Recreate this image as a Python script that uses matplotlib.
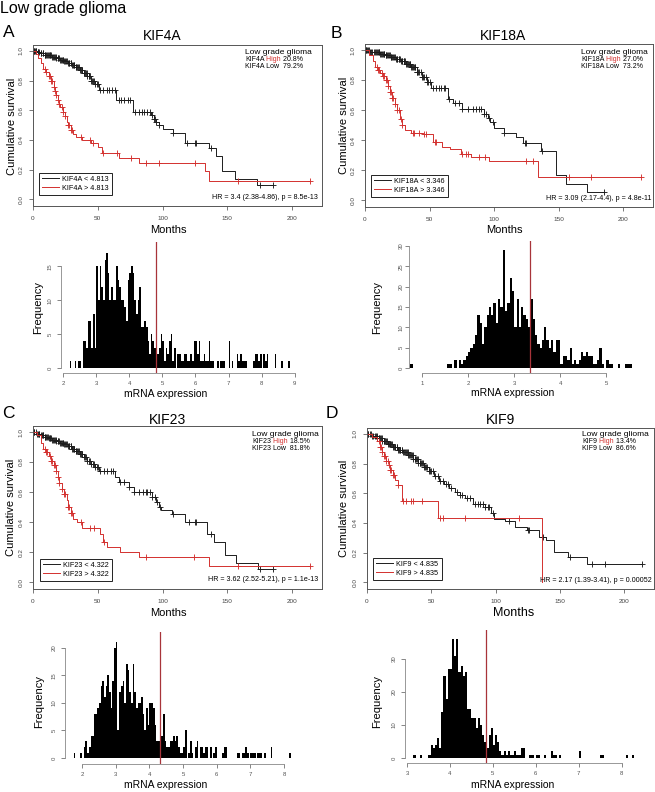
import numpy as np
import matplotlib
matplotlib.use("Agg")
import matplotlib.pyplot as plt

plt.rcParams['font.family'] = ['Liberation Sans', 'DejaVu Sans']

# ---------------- data ----------------
genes = ['KIF4A', 'KIF18A', 'KIF23', 'KIF9']
cutoffs = [4.813, 3.346, 4.322, 4.835]
high_pct = ['20.8%', '27.0%', '18.5%', '13.4%']
low_pct = ['79.2%', '73.2%', '81.8%', '86.6%']
hr_text = ['HR = 3.4 (2.38-4.86), p = 8.5e-13',
           'HR = 3.09 (2.17-4.4), p = 4.8e-11',
           'HR = 3.62 (2.52-5.21), p = 1.1e-13',
           'HR = 2.17 (1.39-3.41), p = 0.00052']

# KIF4A survival (months, survival) steps, end of follow-up, censor times
a_low_t = [0, 3, 6, 9, 12, 15, 18, 21, 24, 27, 30, 33, 36, 39, 42, 45, 48, 51,
           64, 77, 91, 93, 95, 97, 100, 108, 117, 136, 141, 146, 156, 173]
a_low_s = [1.0, 0.99, 0.985, 0.975, 0.97, 0.96, 0.95, 0.94, 0.93, 0.92, 0.905, 0.89,
           0.87, 0.85, 0.83, 0.80, 0.775, 0.735, 0.67, 0.59, 0.565, 0.54, 0.52, 0.50,
           0.475, 0.445, 0.38, 0.345, 0.29, 0.19, 0.14, 0.095]
a_low_end = 185
a_low_cens = [0.5, 1, 1.5, 2, 2.5, 3.5, 4, 5, 6, 6.5, 7.5, 8, 9, 9.5, 10, 11, 11.5,
              12, 13, 13.5, 14, 15, 15.5, 16, 17, 17.5, 18, 19, 19.5, 20, 21, 21.5,
              22, 23, 23.5, 24, 25, 25.5, 26, 27, 27.5, 28, 29, 29.5, 30, 31, 31.5,
              32, 33, 33.5, 34, 35, 35.5, 36, 37, 37.5, 38, 39, 39.5, 40, 41, 41.5,
              42, 43, 43.5, 44, 45, 45.5, 46, 47, 48, 49, 50, 52, 54, 57, 59, 61,
              63, 66, 68, 70, 73, 75, 79, 82, 84, 86, 88, 90, 92, 93, 94, 95, 97,
              108, 119, 125, 126, 137, 175, 185]
a_high_t = [0, 2, 4, 6, 8, 10, 12, 14, 16, 17, 18, 19, 20, 21, 23, 25, 26, 27, 29,
            31, 33, 38, 45, 50, 53, 66, 82, 133, 136]
a_high_s = [1.0, 0.98, 0.95, 0.92, 0.88, 0.86, 0.83, 0.80, 0.76, 0.73, 0.70, 0.67,
            0.64, 0.62, 0.59, 0.56, 0.52, 0.50, 0.47, 0.44, 0.42, 0.40, 0.38, 0.35,
            0.31, 0.28, 0.245, 0.19, 0.125]
a_high_end = 214
a_high_cens = [9, 10, 12, 13, 14, 15, 16, 17, 18, 19, 20, 22, 23, 25, 27, 28, 29, 30,
               37, 44, 46, 54, 65, 76, 87, 97, 125, 158, 214]

# KIF18A
b_low_t = [0, 4, 8, 12, 16, 20, 24, 28, 32, 36, 40, 44, 48, 51, 64, 68, 75, 92, 95,
           97, 100, 108, 117, 122, 136, 148, 156, 172]
b_low_s = [1.0, 0.99, 0.985, 0.975, 0.965, 0.955, 0.94, 0.925, 0.905, 0.885, 0.855,
           0.82, 0.785, 0.745, 0.675, 0.65, 0.605, 0.575, 0.55, 0.52, 0.48, 0.45, 0.42,
           0.38, 0.33, 0.165, 0.11, 0.053]
b_low_end = 185
b_low_cens = [0.5, 1, 1.5, 2.5, 3, 4, 5, 5.5, 7, 8, 8.5, 9, 10, 10.5, 11, 12, 12.5,
              13, 14, 14.5, 15, 16, 16.5, 17, 18, 18.5, 19, 20, 20.5, 21, 22, 22.5,
              23, 24, 24.5, 25, 26, 26.5, 27, 28, 28.5, 29, 30, 30.5, 31, 32, 32.5,
              33, 34, 34.5, 35, 36, 36.5, 37, 38, 38.5, 39, 40, 40.5, 41, 42, 43,
              44, 45, 46, 47, 48, 49, 50, 53, 55, 57, 59, 61, 62, 65, 70, 73, 75,
              80, 84, 86, 88, 90, 92, 94, 96, 99, 108, 124, 125, 137, 185]
b_high_t = [0, 3, 6, 8, 10, 12, 14, 16, 18, 19, 21, 23, 25, 27, 29, 31, 36, 45, 53,
            60, 66, 74, 82, 96, 134]
b_high_s = [1.0, 0.97, 0.93, 0.89, 0.87, 0.85, 0.83, 0.80, 0.76, 0.72, 0.68, 0.64,
            0.60, 0.54, 0.50, 0.47, 0.45, 0.44, 0.385, 0.355, 0.34, 0.31, 0.29, 0.26,
            0.155]
b_high_end = 214
b_high_cens = [9, 10, 11, 13, 14, 15, 16, 17, 18, 19, 20, 21, 22, 23, 25, 26, 28, 29,
               37, 38, 42, 46, 47, 54, 55, 75, 78, 80, 88, 93, 125, 130, 158, 175, 214]

# KIF23
c_low_t = [0, 3, 6, 9, 12, 15, 18, 21, 24, 27, 30, 33, 36, 39, 42, 45, 48, 51, 63,
           66, 74, 78, 92, 95, 97, 99, 107, 117, 134, 140, 148, 157, 174]
c_low_s = [1.0, 0.99, 0.98, 0.97, 0.96, 0.95, 0.94, 0.93, 0.92, 0.905, 0.89, 0.875,
           0.855, 0.835, 0.81, 0.79, 0.765, 0.74, 0.70, 0.665, 0.635, 0.60, 0.57,
           0.535, 0.50, 0.48, 0.455, 0.40, 0.32, 0.27, 0.18, 0.13, 0.09]
c_low_end = 185
c_low_cens = [0.5, 1, 2, 3, 3.5, 4.5, 5, 6, 7, 7.5, 8, 9, 9.5, 10, 11, 11.5, 12,
              13, 13.5, 14, 15, 15.5, 16, 17, 17.5, 18, 19, 19.5, 20, 21, 21.5, 22,
              23, 23.5, 24, 25, 25.5, 26, 27, 27.5, 28, 29, 29.5, 30, 31, 31.5, 32,
              33, 33.5, 34, 35, 35.5, 36, 37, 37.5, 38, 39, 40, 41, 42, 43, 44, 45,
              46, 47, 48, 49, 50, 52, 55, 57, 60, 62, 67, 70, 74, 78, 82, 85, 87, 88,
              90, 92, 94, 96, 98, 108, 120, 125, 126, 137, 175, 185]
c_high_t = [0, 3, 6, 8, 10, 12, 14, 16, 18, 19, 20, 22, 24, 26, 27, 29, 31, 34, 38,
            52, 54, 57, 67, 82, 136]
c_high_s = [1.0, 0.98, 0.93, 0.89, 0.87, 0.84, 0.81, 0.78, 0.74, 0.70, 0.66, 0.62,
            0.59, 0.55, 0.50, 0.46, 0.42, 0.40, 0.36, 0.32, 0.265, 0.235, 0.20, 0.17,
            0.11]
c_high_end = 214
c_high_cens = [9, 10, 11, 13, 14, 15, 16, 17, 18, 19, 20, 22, 24, 25, 27, 28, 29, 30,
               37, 44, 47, 55, 87, 124, 158, 214]

# KIF9
d_low_t = [0, 4, 8, 12, 16, 20, 24, 28, 32, 36, 40, 44, 48, 52, 56, 60, 64, 68, 72,
           76, 82, 92, 96, 99, 107, 115, 124, 134, 139, 145, 156, 171]
d_low_s = [1.0, 0.985, 0.97, 0.955, 0.935, 0.915, 0.895, 0.875, 0.855, 0.83, 0.805,
           0.78, 0.75, 0.715, 0.68, 0.66, 0.635, 0.61, 0.59, 0.57, 0.53, 0.51, 0.465,
           0.43, 0.41, 0.375, 0.355, 0.305, 0.285, 0.205, 0.17, 0.126]
d_low_end = 214
d_low_cens = [0.5, 1, 2, 3, 4, 5, 6, 7, 7.5, 8, 9, 9.5, 10, 11, 11.5, 12, 13, 13.5,
              14, 15, 15.5, 16, 17, 17.5, 18, 19, 19.5, 20, 21, 21.5, 22, 23, 23.5,
              24, 25, 25.5, 26, 27, 27.5, 28, 29, 29.5, 30, 31, 31.5, 32, 33, 33.5,
              34, 35, 35.5, 36, 37, 37.5, 38, 39, 39.5, 40, 41, 41.5, 42, 43, 43.5,
              44, 45, 46, 47, 48, 49, 50, 51, 53, 55, 57, 59, 61, 63, 65, 70, 72,
              74, 78, 80, 84, 86, 88, 90, 92, 94, 95, 98, 110, 125, 126, 137, 158,
              175, 185, 214]
d_high_t = [0, 4, 8, 10, 12, 13, 15, 17, 18, 20, 22, 24, 27, 55, 136]
d_high_s = [1.0, 0.98, 0.95, 0.91, 0.88, 0.85, 0.82, 0.79, 0.76, 0.72, 0.69, 0.655,
            0.545, 0.435, 0.0]
d_high_end = 136
d_high_cens = [9, 10, 11, 12, 13, 14, 15, 16, 17, 18, 19, 20, 21, 24, 28, 30, 34, 36,
               43, 57, 59, 76, 118]

# histograms of mRNA expression: first bin left edge, counts per 0.05 bin
bin_width = 0.05
hist_a_start = 2.2
hist_a_counts = [1, 0, 0, 1, 0, 1, 1, 0, 4, 4, 3, 7, 7, 3, 8, 3, 15, 10, 15, 12,
                 10, 16, 17, 14, 10, 12, 10, 10, 15, 13, 12, 10, 10, 9, 7, 13, 14, 15,
                 14, 10, 8, 10, 12, 6, 6, 7, 6, 4, 2, 5, 4, 3, 1, 2, 3, 5, 4, 1, 3, 2,
                 4, 5, 1, 3, 0, 2, 2, 1, 1, 2, 2, 1, 1, 2, 1, 4, 4, 2, 4, 1, 1, 2, 1,
                 1, 4, 1, 1, 0, 0, 1, 0, 1, 1, 1, 0, 0, 4, 0, 1, 0, 0, 2, 1, 2, 1, 1,
                 1, 0, 0, 0, 0, 1, 2, 2, 1, 2, 0, 2, 1, 2, 0, 0, 0, 0, 2, 0, 0, 0, 1,
                 0, 0, 0, 1]
hist_b_start = 0.75
hist_b_counts = [1, 0, 0, 0, 0, 0, 0, 0, 0, 0, 0, 0, 0, 0, 0, 0, 1, 1, 0, 2, 0, 2,
                 1, 2, 3, 4, 5, 6, 8, 13, 11, 6, 10, 13, 15, 13, 16, 11, 17, 15, 29,
                 14, 16, 22, 19, 10, 17, 10, 15, 13, 12, 10, 17, 12, 8, 6, 5, 7, 10,
                 7, 5, 7, 4, 7, 7, 1, 3, 3, 2, 5, 1, 2, 1, 2, 4, 3, 4, 3, 3, 1, 1, 2,
                 5, 1, 0, 2, 1, 1, 0, 0, 1, 0, 0, 1, 1, 1]
hist_c_start = 1.75
hist_c_counts = [1, 0, 0, 0, 1, 0, 2, 3, 1, 2, 4, 4, 8, 8, 9, 10, 13, 14, 11, 13,
                 15, 12, 9, 14, 20, 21, 5, 12, 13, 14, 10, 17, 16, 12, 10, 17, 12, 9,
                 10, 10, 11, 8, 5, 9, 6, 10, 10, 9, 6, 3, 3, 3, 4, 8, 3, 2, 2, 3, 3,
                 4, 3, 4, 2, 1, 1, 2, 5, 0, 1, 3, 1, 0, 2, 3, 0, 2, 2, 1, 2, 2, 0, 2,
                 0, 1, 2, 0, 0, 0, 1, 2, 2, 0, 0, 0, 0, 0, 0, 1, 1, 0, 1, 1, 2, 1, 0,
                 1, 1, 1, 0, 1, 1, 1, 0, 1, 0, 0, 0, 2, 0, 0, 0, 0, 0, 0, 0, 0, 0, 0,
                 1]
hist_d_start = 3.15
hist_d_counts = [1, 0, 0, 1, 0, 0, 0, 1, 4, 3, 4, 6, 3, 14, 25, 18, 27, 27, 36, 31,
                 36, 26, 28, 25, 26, 15, 15, 12, 12, 9, 12, 10, 7, 5, 3, 7, 9, 4, 7,
                 5, 2, 1, 2, 1, 2, 1, 1, 2, 1, 1, 3, 3, 0, 0, 1, 1, 0, 1, 1, 0, 0, 1,
                 0, 0, 2, 1, 1, 0, 1, 0, 0, 0, 0, 0, 0, 0, 0, 2, 0, 0, 0, 0, 0, 0, 0,
                 0, 0, 1, 1, 0, 0, 0, 0, 0, 0, 0, 0, 0, 0, 1, 0, 0, 1]

# ---------------- layout (pixels of a 655 x 792 canvas) ----------------
W, H = 655, 792
RED = '#d3302e'
LINE_RED = '#a8343a'
DARK = '#1c1c1c'

fig = plt.figure(figsize=(W / 100, H / 100), dpi=100)


def add_box(l, t, r, b):
    return fig.add_axes([l / W, 1 - b / H, (r - l) / W, (b - t) / H])


def ftext(x, y, s, **kw):
    return fig.text(x / W, 1 - y / H, s, **kw)


def surv_at(t, s, c):
    idx = np.searchsorted(t, c, side='right') - 1
    return np.asarray(s)[idx]


panels = [
    dict(low=(a_low_t, a_low_s, a_low_end, a_low_cens),
         high=(a_high_t, a_high_s, a_high_end, a_high_cens),
         hist=(hist_a_start, hist_a_counts)),
    dict(low=(b_low_t, b_low_s, b_low_end, b_low_cens),
         high=(b_high_t, b_high_s, b_high_end, b_high_cens),
         hist=(hist_b_start, hist_b_counts)),
    dict(low=(c_low_t, c_low_s, c_low_end, c_low_cens),
         high=(c_high_t, c_high_s, c_high_end, c_high_cens),
         hist=(hist_c_start, hist_c_counts)),
    dict(low=(d_low_t, d_low_s, d_low_end, d_low_cens),
         high=(d_high_t, d_high_s, d_high_end, d_high_cens),
         hist=(hist_d_start, hist_d_counts)),
]

letters = ['A', 'B', 'C', 'D']
letter_xy = [(3, 37), (331, 38), (2, 418), (326, 418)]
title_xy = [(162, 40), (503, 40), (167, 424), (500, 424)]
km_box = [(33, 45, 322, 206), (365, 44, 653, 207), (33, 426, 322, 589), (367, 428, 654, 589)]
ylab_xy = [(12, 126), (344, 125), (11, 507), (344, 508)]
months_xy = [(168, 230), (504, 230), (168, 613), (514, 613)]
months_fs = [8, 8, 8, 9]
info_x = [245, 581, 252, 582]
info_y = [(53.5, 61, 67.5), (54, 61, 67.5), (436, 443, 449.5), (436, 443, 449.5)]
hr_xy = [(318, 199), (651, 200), (318, 581), (652, 582)]
leg_box = [(39, 195), (371, 197), (40, 581), (373, 580)]

hist_box = [(61, 242, 298.5, 373), (409, 241, 640.6, 373), (65, 632, 299.6, 764),
            (404.7, 630, 641, 763)]
hist_xlim = [(1.934, 9.116), (0.718, 5.742), (1.492, 8.458), (2.946, 8.454)]
hist_ylim = [(-0.74, 18.6), (-1.23, 31.2), (-1.09, 22.9), (-1.5, 38.8)]
hist_xticks = [[2, 3, 4, 5, 6, 7, 8, 9], [1, 2, 3, 4, 5], [2, 3, 4, 5, 6, 7, 8],
               [3, 4, 5, 6, 7, 8]]
hist_yticks = [[0, 5, 10, 15], [0, 5, 10, 15, 20, 25, 30], [0, 5, 10, 15, 20],
               [0, 10, 20, 30]]
hist_ypad = [3, 1, 3, 3]
freq_xy = [(38, 308), (377, 308), (39, 702), (377, 702)]
mrna_xy = [(166, 394), (513, 393), (166, 785), (513, 785)]

ftext(0, 13, 'Low grade glioma', fontsize=11.5, va='baseline', ha='left')

for i, p in enumerate(panels):
    gene = genes[i]
    ftext(letter_xy[i][0], letter_xy[i][1], letters[i], fontsize=12.5, va='baseline')
    ftext(title_xy[i][0], title_xy[i][1], gene, fontsize=10, ha='center', va='baseline')

    # ---------- Kaplan-Meier ----------
    l, t, r, b = km_box[i]
    ax = add_box(l, t, r, b)
    ax.set_xlim(0, 223)
    ax.set_ylim(-0.045, 1.04)
    handles = []
    for key, col in (('low', DARK), ('high', RED)):
        st, ss, end, cens = p[key]
        xs = list(st) + [end]
        ys = list(ss) + [ss[-1]]
        h, = ax.step(xs, ys, where='post', color=col, lw=0.7)
        ax.plot(cens, surv_at(st, ss, cens), ls='none', marker='+', ms=4.3,
                mew=0.65, color=col)
        handles.append(h)
    ax.set_xticks([0, 50, 100, 150, 200])
    ax.set_yticks([0, 0.2, 0.4, 0.6, 0.8, 1.0])
    ax.set_yticklabels(['0.0', '0.2', '0.4', '0.6', '0.8', '1.0'], rotation=90, va='center')
    ax.tick_params(direction='out', length=3, width=0.5, labelsize=4.6, pad=4,
                   colors='#444444')
    for sp in ax.spines.values():
        sp.set_color('#555555')
        sp.set_linewidth(0.7)

    kl, kt, kr, kb = l, t, r, b
    fx = lambda px: (px - kl) / (kr - kl)
    fy = lambda py: (kb - py) / (kb - kt)

    lx, ly = leg_box[i]
    leg = ax.legend(handles, ['%s < %.3f' % (gene, cutoffs[i]), '%s > %.3f' % (gene, cutoffs[i])],
                    loc='lower left', bbox_to_anchor=(fx(lx), fy(ly)), borderaxespad=0,
                    fontsize=5.2, fancybox=False, edgecolor='#222222', framealpha=1,
                    handlelength=2.3, handletextpad=0.5, borderpad=0.45,
                    labelspacing=0.25)
    leg.get_frame().set_linewidth(0.7)

    y1, y2, y3 = info_y[i]
    ax.text(fx(info_x[i]), fy(y1), 'Low grade glioma', transform=ax.transAxes,
            fontsize=6, va='baseline', ha='left')
    t1 = ax.text(fx(info_x[i]), fy(y2), gene, transform=ax.transAxes,
                 fontsize=5, va='baseline', ha='left')
    t2 = ax.annotate(' High', xy=(1, 0), xycoords=t1, fontsize=5, va='bottom',
                     ha='left', color=RED)
    ax.annotate(' ' + high_pct[i], xy=(1, 0), xycoords=t2, fontsize=5,
                va='bottom', ha='left')
    ax.text(fx(info_x[i]), fy(y3), gene + ' Low  ' + low_pct[i], transform=ax.transAxes,
            fontsize=5, va='baseline', ha='left')
    ax.text(fx(hr_xy[i][0]), fy(hr_xy[i][1]), hr_text[i], transform=ax.transAxes,
            fontsize=5.1, va='baseline', ha='right')

    ftext(ylab_xy[i][0], ylab_xy[i][1], 'Cumulative survival', fontsize=8,
          rotation=90, ha='center', va='center')
    ftext(months_xy[i][0], months_xy[i][1], 'Months', fontsize=months_fs[i],
          ha='center', va='center')

    # ---------- expression histogram ----------
    l, t, r, b = hist_box[i]
    hx = add_box(l, t, r, b)
    start, counts = p['hist']
    edges = start + bin_width * np.arange(len(counts))
    hx.bar(edges, counts, width=bin_width, align='edge', color='black', lw=0)
    hx.axvline(cutoffs[i], color=LINE_RED, lw=0.9)
    hx.set_xlim(*hist_xlim[i])
    hx.set_ylim(*hist_ylim[i])
    hx.set_xticks(hist_xticks[i])
    hx.set_yticks(hist_yticks[i])
    hx.set_yticklabels([str(v) for v in hist_yticks[i]], rotation=90, va='center')
    hx.spines['top'].set_visible(False)
    hx.spines['right'].set_visible(False)
    hx.spines['left'].set_bounds(hist_yticks[i][0], hist_yticks[i][-1])
    hx.spines['bottom'].set_bounds(hist_xticks[i][0], hist_xticks[i][-1])
    for sp in ('left', 'bottom'):
        hx.spines[sp].set_color('#888888')
        hx.spines[sp].set_linewidth(0.6)
    hx.tick_params(direction='out', length=3, width=0.5, labelsize=4.3, pad=3,
                   colors='#555555')
    hx.tick_params(axis='y', pad=hist_ypad[i])
    hx.patch.set_alpha(0)

    ftext(freq_xy[i][0], freq_xy[i][1], 'Frequency', fontsize=8, rotation=90,
          ha='center', va='center')
    ftext(mrna_xy[i][0], mrna_xy[i][1], 'mRNA expression', fontsize=7.5,
          ha='center', va='center')

fig.savefig('out.png', dpi=100)
